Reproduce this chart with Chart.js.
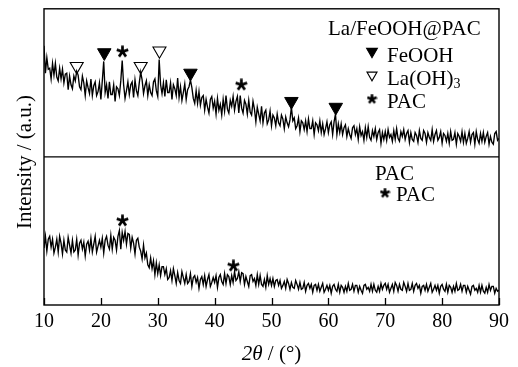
<!DOCTYPE html>
<html>
<head>
<meta charset="utf-8">
<script src="https://cdn.jsdelivr.net/npm/chart.js@4.4.1/dist/chart.umd.min.js"></script>
<style>
  html, body { margin: 0; padding: 0; background: #fff; }
  canvas { display: block; }
</style>
</head>
<body>
<canvas id="xrd" width="518" height="367"></canvas>
<script>
// 2theta sampling of the scans
const angleStart = 10
const angleStep = 0.25
const xTicks = [10, 20, 30, 40, 50, 60, 70, 80, 90]

// La/FeOOH@PAC scan (upper panel), 10..90 deg, 4 points per degree
const compositeCounts = [
  114, 86, 102, 90,  91, 80, 96, 84,  96, 82, 78, 91,  80, 90, 76, 85,  86, 69, 83, 74,
  70, 83, 78, 88,  84, 72, 69, 83,  76, 63, 78, 71,  65, 80, 63, 73,  77, 63, 67, 76,
  59, 78, 98, 66,  74, 60, 77, 64,  64, 74, 57, 72,  70, 63, 78, 99,  74, 60, 68, 77,
  64, 74, 77, 61,  79, 68, 63, 76,  87, 79, 65, 73,  78, 63, 74, 66,  63, 77, 80, 68,
  62, 100, 74, 65,  76, 62, 79, 66,  66, 76, 59, 74,  70, 63, 81, 61,  72, 58, 66, 75,
  59, 69, 72, 79,  71, 60, 55, 68,  55, 67, 53, 61,  63, 48, 59, 51,  45, 59, 62, 50,
  57, 44, 60, 48,  54, 43, 59, 47,  63, 49, 45, 58,  52, 62, 48, 57,  62, 45, 63, 50,
  45, 58, 54, 44,  58, 46, 43, 57,  49, 36, 51, 44,  37, 52, 35, 45,  48, 34, 38, 47,
  32, 43, 40, 32,  44, 35, 32, 43,  39, 29, 41, 35,  31, 38, 51, 37,  40, 29, 32, 40,
  26, 37, 35, 28,  37, 26, 39, 29,  29, 37, 23, 35,  33, 27, 37, 25,  34, 23, 29, 36,
  25, 33, 36, 23,  36, 44, 23, 34,  25, 34, 23, 30,  33, 21, 29, 23,  19, 30, 32, 23,
  29, 18, 31, 22,  26, 17, 30, 20,  31, 20, 17, 27,  21, 29, 18, 25,  28, 14, 25, 18,
  26, 17, 28, 20,  23, 16, 27, 18,  29, 19, 16, 26,  21, 28, 18, 24,  27, 15, 25, 18,
  16, 25, 22, 15,  27, 19, 17, 27,  24, 15, 25, 20,  17, 28, 16, 23,  27, 17, 20, 26,
  14, 24, 22, 16,  24, 14, 26, 17,  18, 25, 13, 24,  21, 16, 26, 15,  24, 14, 19, 26,
  15, 23, 25, 13,  26, 18, 14, 24,  16, 25, 15, 21,  25, 13, 21, 15,  13, 24, 26, 17,
  19
]

// PAC scan (lower panel), 10..90 deg, 4 points per degree
const pacCounts = [
  58, 70, 55, 67,  70, 59, 67, 53,  59, 67, 54, 70,  63, 52, 66, 56,  54, 69, 61, 53,
  66, 54, 56, 67,  51, 63, 66, 57,  64, 50, 62, 65,  56, 68, 54, 62,  70, 54, 60, 66,
  59, 68, 53, 66,  70, 61, 57, 71,  57, 69, 66, 56,  70, 76, 57, 74,  66, 75, 62, 73,
  72, 58, 69, 63,  52, 66, 68, 59,  55, 47, 61, 48,  53, 41, 38, 48,  37, 45, 31, 43,
  32, 41, 30, 39,  39, 31, 37, 26,  28, 35, 25, 37,  30, 22, 33, 25,  22, 34, 28, 22,
  31, 22, 24, 32,  19, 28, 30, 23,  28, 17, 26, 29,  21, 30, 19, 26,  31, 19, 23, 28,
  23, 30, 18, 28,  31, 24, 21, 32,  22, 31, 29, 21,  30, 23, 34, 25,  27, 34, 24, 33,
  32, 21, 29, 24,  19, 30, 31, 24,  27, 20, 31, 21,  30, 21, 19, 26,  18, 30, 21, 27,
  20, 27, 19, 25,  26, 20, 25, 17,  20, 24, 17, 26,  22, 16, 23, 18,  17, 25, 21, 16,
  23, 16, 17, 23,  14, 20, 22, 17,  21, 13, 20, 21,  15, 21, 14, 18,  22, 13, 16, 20,
  15, 20, 12, 19,  21, 16, 14, 21,  13, 20, 18, 13,  19, 14, 22, 15,  16, 21, 14, 20,
  20, 13, 19, 15,  12, 20, 21, 16,  18, 14, 21, 14,  21, 15, 13, 19,  14, 22, 16, 20,
  22, 16, 21, 13,  17, 21, 14, 23,  20, 14, 21, 16,  15, 23, 19, 14,  22, 15, 16, 22,
  14, 20, 22, 17,  20, 12, 19, 20,  15, 21, 14, 18,  22, 13, 16, 20,  15, 20, 12, 19,
  21, 16, 14, 21,  13, 20, 18, 13,  19, 14, 22, 15,  16, 21, 14, 20,  20, 13, 19, 15,
  11, 19, 20, 15,  17, 13, 20, 13,  20, 14, 12, 18,  13, 21, 15, 19,  19, 12, 17, 14,
  15
]

// phase markers: peak position (deg) and marker height (same units as the scan)
const feoohAngles = [20.6, 35.75, 53.5, 61.3]
const feoohHeights = [107, 86, 57, 51]
const laohAngles = [15.75, 27.0, 30.3]
const laohHeights = [93, 93, 109]
const pacTopAngles = [23.8, 44.7]
const pacTopHeights = [108, 74]
const pacBottomAngles = [23.8, 43.3]
const pacBottomHeights = [86, 40]

const serif = '"Liberation Serif", "Times New Roman", serif'

function toPoints(counts) {
  return counts.map((v, i) => ({ x: angleStart + i * angleStep, y: v }))
}
function pairs(xs, ys) {
  return xs.map((x, i) => ({ x: x, y: ys[i] }))
}

// five-armed asterisk used for the PAC marks
function makeStar(size, lw) {
  const c = document.createElement('canvas')
  c.width = size
  c.height = size
  const g = c.getContext('2d')
  const r = size / 2
  g.strokeStyle = '#000'
  g.lineWidth = lw
  g.beginPath()
  for (let k = 0; k < 5; k++) {
    const a = -Math.PI / 2 + k * 2 * Math.PI / 5
    g.moveTo(r, r)
    g.lineTo(r + Math.cos(a) * (r - 0.5), r + Math.sin(a) * (r - 0.5))
  }
  g.stroke()
  return c
}
const starBig = makeStar(13, 2.7)
const starSmall = makeStar(11, 2.5)

function triangleDown(ctx, x, y, r, filled) {
  ctx.beginPath()
  ctx.moveTo(x - r * 0.866, y - r * 0.5)
  ctx.lineTo(x + r * 0.866, y - r * 0.5)
  ctx.lineTo(x, y + r)
  ctx.closePath()
  if (filled) { ctx.fillStyle = '#000'; ctx.fill() }
  ctx.lineWidth = 1.1
  ctx.strokeStyle = '#000'
  ctx.stroke()
}

const framePlugin = {
  id: 'frame',
  afterDraw(chart) {
    const ctx = chart.ctx
    const a = chart.chartArea
    const x = chart.scales.x
    const top = chart.scales.yTop
    ctx.save()
    ctx.strokeStyle = '#000'
    ctx.lineWidth = 1.4
    ctx.strokeRect(a.left, a.top, a.right - a.left, a.bottom - a.top)
    ctx.beginPath()
    ctx.moveTo(a.left, top.bottom)
    ctx.lineTo(a.right, top.bottom)
    ctx.stroke()
    // inward ticks on the 2theta axis
    ctx.lineWidth = 1.3
    ctx.beginPath()
    for (const t of x.ticks) {
      const px = Math.round(x.getPixelForValue(t.value)) + 0.5
      ctx.moveTo(px, a.bottom)
      ctx.lineTo(px, a.bottom - 7)
    }
    ctx.stroke()

    // legends
    ctx.fillStyle = '#000'
    ctx.textBaseline = 'alphabetic'
    ctx.textAlign = 'left'
    ctx.font = '21px ' + serif
    ctx.fillText('La/FeOOH@PAC', 328, 35)
    triangleDown(ctx, 372, 51.5, 6.2, true)
    ctx.fillStyle = '#000'
    ctx.fillText('FeOOH', 387, 62)
    triangleDown(ctx, 372, 75, 5.8, false)
    ctx.fillStyle = '#000'
    ctx.fillText('La(OH)', 387, 85)
    const w = ctx.measureText('La(OH)').width
    ctx.font = '14px ' + serif
    ctx.fillText('3', 387 + w, 88)
    ctx.font = '21px ' + serif
    ctx.drawImage(starSmall, 372 - 5.5, 99 - 5.5)
    ctx.fillText('PAC', 387, 108)

    ctx.fillText('PAC', 375, 180)
    ctx.drawImage(starSmall, 385 - 5.5, 193 - 5.5)
    ctx.fillText('PAC', 396, 201)

    // axis titles
    ctx.save()
    ctx.translate(25, 162)
    ctx.rotate(-Math.PI / 2)
    ctx.textAlign = 'center'
    ctx.textBaseline = 'middle'
    ctx.font = '21px ' + serif
    ctx.fillText('Intensity / (a.u.)', 0, 0)
    ctx.restore()

    ctx.font = 'italic 21px ' + serif
    const p1 = '2\u03b8'
    const w1 = ctx.measureText(p1).width
    ctx.font = '21px ' + serif
    const p2 = ' / (\u00b0)'
    const w2 = ctx.measureText(p2).width
    const cx = (a.left + a.right) / 2
    const sx = cx - (w1 + w2) / 2
    ctx.font = 'italic 21px ' + serif
    ctx.fillText(p1, sx, 360)
    ctx.font = '21px ' + serif
    ctx.fillText(p2, sx + w1, 360)
    ctx.restore()
  }
}

const lineStyle = {
  borderColor: '#000',
  borderWidth: 1.35,
  pointRadius: 0,
  tension: 0,
  fill: false
}

new Chart(document.getElementById('xrd'), {
  type: 'line',
  data: {
    datasets: [
      Object.assign({ label: 'La/FeOOH@PAC', data: toPoints(compositeCounts), yAxisID: 'yTop' }, lineStyle),
      Object.assign({ label: 'PAC', data: toPoints(pacCounts), yAxisID: 'yBottom' }, lineStyle),
      {
        label: 'FeOOH', data: pairs(feoohAngles, feoohHeights), yAxisID: 'yTop',
        showLine: false, pointStyle: 'triangle', rotation: 180, pointRadius: 7.8,
        backgroundColor: '#000', borderColor: '#000', borderWidth: 1
      },
      {
        label: 'La(OH)3', data: pairs(laohAngles, laohHeights), yAxisID: 'yTop',
        showLine: false, pointStyle: 'triangle', rotation: 180, pointRadius: 7.5,
        backgroundColor: '#fff', borderColor: '#000', borderWidth: 1.1
      },
      {
        label: 'PAC top', data: pairs(pacTopAngles, pacTopHeights), yAxisID: 'yTop',
        showLine: false, pointStyle: starBig
      },
      {
        label: 'PAC bottom', data: pairs(pacBottomAngles, pacBottomHeights), yAxisID: 'yBottom',
        showLine: false, pointStyle: starBig
      }
    ]
  },
  options: {
    responsive: false,
    animation: false,
    events: [],
    layout: { padding: { left: 44, right: 19, top: 7, bottom: 28 } },
    plugins: { legend: { display: false }, tooltip: { enabled: false } },
    scales: {
      x: {
        type: 'linear',
        min: 10,
        max: 90,
        afterBuildTicks: (s) => { s.ticks = xTicks.map(v => ({ value: v })) },
        ticks: { font: { family: serif, size: 20 }, color: '#000', padding: 5, maxRotation: 0 },
        grid: { display: false, drawTicks: false },
        border: { display: false }
      },
      // stacked panels: the first scale listed ends up at the bottom
      yBottom: {
        type: 'linear', position: 'left', stack: 'panels', stackWeight: 1,
        min: 0, max: 151,
        ticks: { display: false },
        grid: { display: false, drawTicks: false },
        border: { display: false }
      },
      yTop: {
        type: 'linear', position: 'left', stack: 'panels', stackWeight: 1,
        min: 0, max: 152,
        ticks: { display: false },
        grid: { display: false, drawTicks: false },
        border: { display: false }
      }
    }
  },
  plugins: [framePlugin]
})
</script>
</body>
</html>
